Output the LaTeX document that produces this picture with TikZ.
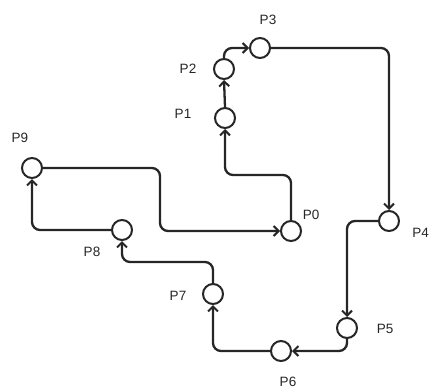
\documentclass[tikz,border=0pt]{standalone}
\usepackage{fontspec}
\setmainfont{Liberation Sans}
\usetikzlibrary{arrows.meta}
\begin{document}
\begin{tikzpicture}[x=1pt,y=-1pt,
  pt/.style={circle,draw,line width=2pt,minimum size=20pt,inner sep=0pt,fill=white},
  lbl/.style={font=\fontsize{13.5}{15}\selectfont,inner sep=0pt,text=black!85},
  arr/.style={line width=2.3pt,draw=black!85,rounded corners=8pt,-{Straight Barb[length=5pt,width=10pt,line width=2pt]}}]
\useasboundingbox (0,0) rectangle (430,388);
\node[pt,draw=black!85] (p0) at (291,231) {};
\node[pt,draw=black!85] (p1) at (225,118) {};
\node[pt,draw=black!85] (p2) at (224,69) {};
\node[pt,draw=black!85] (p3) at (260,48) {};
\node[pt,draw=black!85] (p4) at (389,221) {};
\node[pt,draw=black!85] (p5) at (347,328) {};
\node[pt,draw=black!85] (p6) at (281,351) {};
\node[pt,draw=black!85] (p7) at (213,294) {};
\node[pt,draw=black!85] (p8) at (122,230) {};
\node[pt,draw=black!85] (p9) at (32,168) {};
\node[lbl] (l0) at (311,215) {P0};
\node[lbl] (l1) at (183,114) {P1};
\node[lbl] (l2) at (188,69) {P2};
\node[lbl] (l3) at (268,20) {P3};
\node[lbl,anchor=east] (l4) at (429,233) {P4};
\node[lbl] (l5) at (385,329) {P5};
\node[lbl] (l6) at (288,382) {P6};
\node[lbl] (l7) at (178,296) {P7};
\node[lbl] (l8) at (92,252) {P8};
\node[lbl] (l9) at (20,138) {P9};
\coordinate (m9) at (160,200);
\draw[arr] (p0.north) -- (p0.north |- 0,175) -| (p1.south);
\draw[arr] (p1.north) -- (p2.south);
\draw[arr] (p2.north) |- (p3.west);
\draw[arr] (p3.east) -| (p4.north);
\draw[arr] (p4.west) -| (p5.north);
\draw[arr] (p5.south) |- (p6.east);
\draw[arr] (p6.west) -| (p7.south);
\draw[arr] (p7.north) -- (p7.north |- 0,262) -| (p8.south);
\draw[arr] (p8.west) -| (p9.south);
\draw[arr] (p9.east) -| (m9) |- (p0.west);
\end{tikzpicture}
\end{document}
